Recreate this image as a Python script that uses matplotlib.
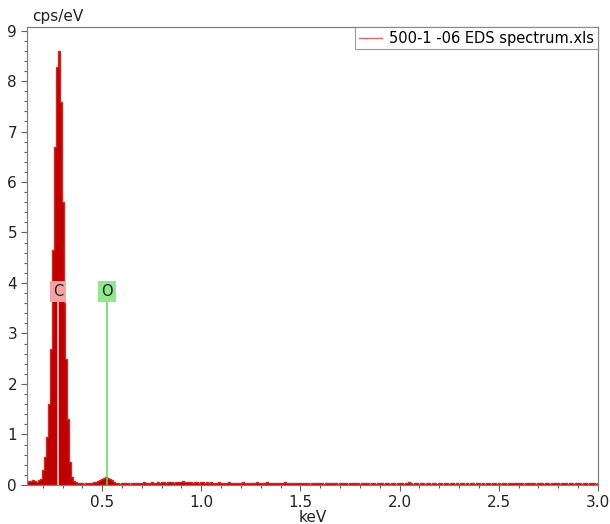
import numpy as np
import matplotlib
matplotlib.use("Agg")
import matplotlib.pyplot as plt
from matplotlib.ticker import MultipleLocator

# EDS spectrum, 10 eV channels starting at 0.12 keV (cps/eV)
E_START = 0.12
E_STEP = 0.01
counts = [
    # 0.12 - 0.19
    0.05, 0.08, 0.07, 0.09, 0.08, 0.06, 0.09, 0.12,
    # 0.20 - 0.36  (C K peak)
    0.30, 0.55, 0.95, 1.60, 2.70, 4.66, 6.70, 8.27, 8.59, 7.58, 5.60, 3.60,
    2.50, 1.30, 0.45, 0.15, 0.08,
    # 0.37 - 0.46
    0.05, 0.04, 0.03, 0.04, 0.02, 0.03, 0.04, 0.03, 0.03, 0.05,
    # 0.47 - 0.57  (O K peak)
    0.06, 0.08, 0.10, 0.12, 0.13, 0.15, 0.14, 0.12, 0.09, 0.06, 0.04,
    # 0.58 - 3.00  background
    0.03, 0.02, 0.04, 0.03, 0.03, 0.04, 0.02, 0.03, 0.04, 0.03,
    0.04, 0.03, 0.04, 0.05, 0.03, 0.04, 0.04, 0.05, 0.03, 0.04,
    0.05, 0.04, 0.05, 0.06, 0.04, 0.05, 0.06, 0.05, 0.04, 0.06,
    0.05, 0.06, 0.05, 0.07, 0.05, 0.06, 0.05, 0.06, 0.04, 0.05,
    0.05, 0.04, 0.06, 0.05, 0.04, 0.05, 0.03, 0.05, 0.04, 0.04,
    0.03, 0.05, 0.04, 0.04, 0.03, 0.04, 0.05, 0.03, 0.04, 0.03,
    0.04, 0.03, 0.04, 0.05, 0.03, 0.04, 0.03, 0.04, 0.04, 0.03,
    0.05, 0.04, 0.03, 0.04, 0.03, 0.05, 0.04, 0.03, 0.04, 0.03,
    0.04, 0.03, 0.04, 0.03, 0.05, 0.03, 0.04, 0.03, 0.03, 0.04,
    0.03, 0.04, 0.03, 0.04, 0.03, 0.03, 0.04, 0.02, 0.04, 0.03,
    0.03, 0.04, 0.03, 0.04, 0.02, 0.03, 0.04, 0.03, 0.03, 0.04,
    0.03, 0.02, 0.04, 0.03, 0.03, 0.04, 0.02, 0.03, 0.04, 0.03,
    0.03, 0.04, 0.02, 0.03, 0.03, 0.04, 0.03, 0.02, 0.03, 0.04,
    0.02, 0.03, 0.03, 0.04, 0.02, 0.03, 0.03, 0.02, 0.03, 0.03,
    0.02, 0.03, 0.04, 0.03, 0.02, 0.04, 0.03, 0.05, 0.03, 0.02,
    0.03, 0.04, 0.02, 0.03, 0.03, 0.02, 0.04, 0.03, 0.02, 0.03,
    0.03, 0.02, 0.03, 0.04, 0.02, 0.03, 0.03, 0.02, 0.03, 0.03,
    0.02, 0.03, 0.02, 0.03, 0.04, 0.02, 0.03, 0.02, 0.03, 0.03,
    0.02, 0.03, 0.03, 0.02, 0.03, 0.02, 0.03, 0.03, 0.02, 0.03,
    0.03, 0.02, 0.03, 0.02, 0.03, 0.03, 0.02, 0.03, 0.04, 0.03,
    0.04, 0.03, 0.03, 0.04, 0.03, 0.02, 0.03, 0.03, 0.04, 0.03,
    0.03, 0.02, 0.03, 0.03, 0.04, 0.02, 0.03, 0.03, 0.02, 0.03,
    0.03, 0.04, 0.03, 0.02, 0.03, 0.03, 0.04, 0.02, 0.03, 0.03,
    0.02, 0.03, 0.03, 0.04, 0.02, 0.03, 0.03, 0.02, 0.03, 0.03,
    0.03, 0.02, 0.03,
]
energy = E_START + E_STEP * np.arange(len(counts))

# element markers
elements = ["C", "O"]
element_kev = [0.277, 0.525]
marker_height = 3.83
marker_face = ["#f4a3a3", "#8fe88f"]
marker_line = ["#ffe0e0", "#5ed85e"]

legend_label = "500-1 -06 EDS spectrum.xls"

plt.rcParams["font.family"] = "DejaVu Sans"
fig = plt.figure(figsize=(6.10, 5.24), dpi=100)
ax = fig.add_axes([0.044, 0.0745, 0.936, 0.874])

ax.fill_between(energy, counts, step="mid", color="#c00000", lw=0)
ax.step(energy, counts, where="mid", color="#c0302a", lw=1.0)

for name, kev, face, lc in zip(elements, element_kev, marker_face, marker_line):
    ax.plot([kev, kev], [0, marker_height - 0.15], color=lc, lw=1.1, zorder=3)
    ax.text(kev, marker_height, name, ha="center", va="center", fontsize=10.5,
            color="#222222", zorder=4,
            bbox=dict(boxstyle="square,pad=0.22", fc=face, ec="none"))

ax.plot([], [], color="#d86a6a", lw=1, label=legend_label)
leg = ax.legend(loc="upper right", borderaxespad=0, fancybox=False,
                frameon=True, fontsize=10.5, handlelength=1.6,
                borderpad=0.25, handletextpad=0.5)
leg.get_frame().set_edgecolor("#808080")
leg.get_frame().set_linewidth(0.8)

ax.set_xlim(0.12, 3.0)
ax.set_ylim(0, 9.07)
ax.xaxis.set_major_locator(MultipleLocator(0.5))
ax.xaxis.set_minor_locator(MultipleLocator(0.1))
ax.yaxis.set_major_locator(MultipleLocator(1))
ax.yaxis.set_minor_locator(MultipleLocator(0.2))
ax.xaxis.set_major_formatter(plt.FormatStrFormatter("%.1f"))
ax.tick_params(which="both", direction="out", color="#606060",
               labelsize=11, labelcolor="#222222", width=0.8)
ax.tick_params(which="major", length=4, pad=3)
ax.tick_params(which="minor", length=2.5)
for s in ax.spines.values():
    s.set_color("#808080")
    s.set_linewidth(0.9)

ax.set_xlabel("keV", fontsize=11, color="#222222", labelpad=0)
fig.text(0.052, 0.955, "cps/eV", fontsize=11, color="#222222",
         ha="left", va="bottom")

fig.savefig("out.png", dpi=100)
